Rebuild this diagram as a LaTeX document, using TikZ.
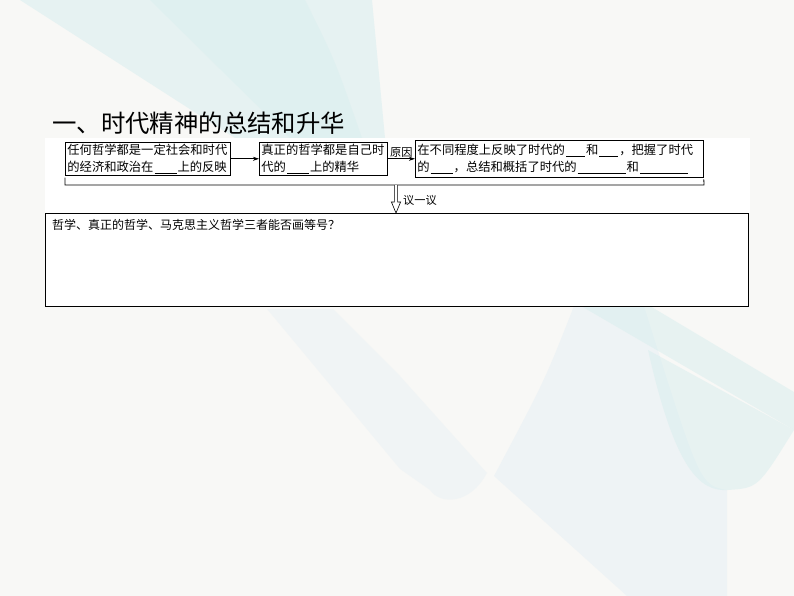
\documentclass[tikz,border=0pt]{standalone}
\usepackage{fontspec}
\newfontfamily\cjk{Noto Sans CJK SC}
\usetikzlibrary{arrows.meta,calc}
\definecolor{slidebg}{RGB}{248,248,246}
\definecolor{tealA}{RGB}{230,242,242}
\definecolor{tealB}{RGB}{216,238,238}
\definecolor{greyblue}{RGB}{238,243,245}
\newcommand{\fillin}[1]{\kern1pt\rule[-1.8pt]{#1}{0.6pt}\kern1pt}

\begin{document}
\begin{tikzpicture}[x=1pt,y=-1pt,>={Stealth[length=6pt,width=4pt]}]

%
% Styles
%
\tikzstyle{stepbox} = [draw,line width=0.8pt,fill=white,anchor=north west,align=left,inner sep=2pt,font=\cjk\fontsize{12.3}{16.5}\selectfont]
\tikzstyle{note} = [inner sep=1pt,font=\cjk\fontsize{11.2}{13}\selectfont]

% slide background
\fill[slidebg] (0,0) rectangle (794,596);
\useasboundingbox (0,0) rectangle (794,596);
\fill[tealA] (20,0) -- (372,0) -- (385,138) -- (235,138) -- cycle;
\fill[tealB,opacity=0.45] (150,0) -- (305,0) .. controls (335,60) .. (362,138) -- (290,138) -- cycle;
\fill[greyblue,opacity=0.7] (267,309) -- (333,309) -- (400,376) -- (487,473) .. controls (470,505) and (440,505) .. (430,490) -- (400,469) -- cycle;
\fill[greyblue] (574,306) .. controls (545,380) .. (494,476) -- (627,596) -- (727,596) -- (727,490) .. controls (700,485) .. (644,306) -- cycle;
\fill[tealB,opacity=0.5] (581,306) -- (650,306) -- (794,392) -- (794,430) -- cycle;
\fill[tealB,opacity=0.5] (648,350) .. controls (675,470) and (700,492) .. (728,490) .. controls (758,488) .. (794,430) -- cycle;

% white panel behind the chart
\fill[white] (45,138) rectangle (750,213);

\node[anchor=west,inner sep=0pt,font=\cjk\fontsize{24.4}{28}\selectfont] (title) at (52,123) {一、时代精神的总结和升华};

\node[stepbox,text width=161pt] (base) at (65,142) {任何哲学都是一定社会和时代\\的经济和政治在\fillin{22pt}上的反映};
\node[stepbox,text width=124pt] (true) at (259,142) {真正的哲学都是自己时\\代的\fillin{22pt}上的精华};
\node[stepbox,text width=284pt,minimum height=37pt] (reason) at (415,140) {在不同程度上反映了时代的\fillin{19pt}和\fillin{19pt}，把握了时代\\的\fillin{22pt}，总结和概括了时代的\fillin{48pt}和\fillin{48pt}};

\draw[->,line width=0.7pt] (base.east) -- (base.east -| true.west);
\draw[->,line width=0.7pt] (true.east) -- node[note,above] {原因} (true.east -| reason.west);

% bracket under the three boxes
\coordinate (brL) at (65,185);
\coordinate (brR) at (704,185);
\draw[line width=0.8pt] ([yshift=-2pt]base.south west) -- (brL) -- (brR) -- ([yshift=-1.5pt]reason.south east);

\node[draw,line width=1pt,fill=white,anchor=north west,minimum width=703pt,minimum height=93pt,inner sep=0pt] (ask) at (45,213) {};
\node[anchor=north west,inner sep=0pt,font=\cjk\fontsize{12}{14}\selectfont] (askq) at ([shift={(7pt,-6pt)}]ask.north west) {哲学、真正的哲学、马克思主义哲学三者能否画等号？};

% hollow arrow down to the question
\coordinate (yiTop) at (396,185);
\coordinate (yiTip) at (ask.north -| yiTop);
\draw[fill=white,line width=0.6pt] ([xshift=-1.6pt]yiTop) -- ([shift={(-1.6pt,11pt)}]yiTip) -- ([shift={(-4.6pt,11pt)}]yiTip) -- (yiTip) -- ([shift={(4.6pt,11pt)}]yiTip) -- ([shift={(1.6pt,11pt)}]yiTip) -- ([xshift=1.6pt]yiTop);
\node[note,anchor=west] (yiyi) at ([xshift=6pt]$(yiTop)!0.55!(yiTip)$) {议一议};

\end{tikzpicture}
\end{document}
